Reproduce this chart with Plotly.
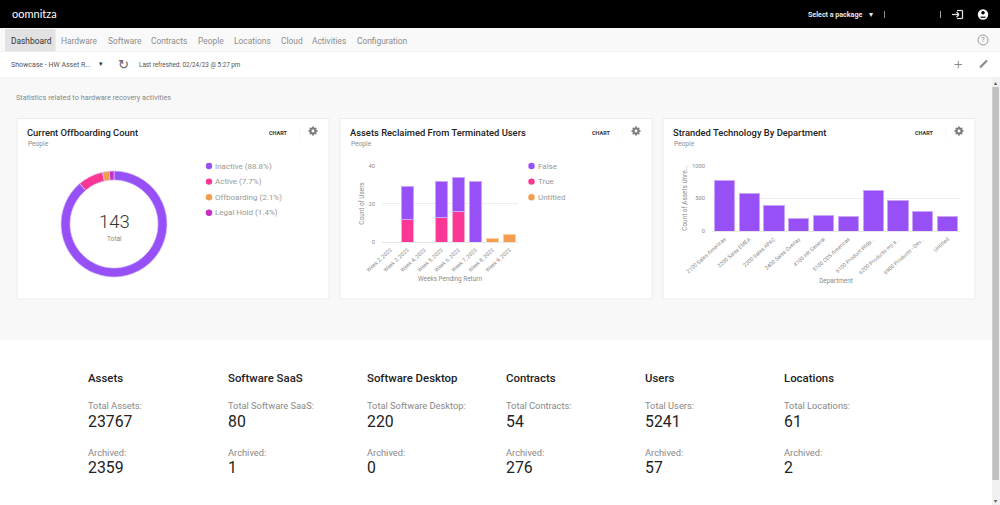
import math
import plotly.graph_objects as go

W = 1000
H = 505

PURPLE = '#9650f5'
PINK = '#fb3795'
ORANGE = '#f59d4f'
MAGENTA = '#c92cc9'

# Data
nav_items = ['Dashboard', 'Hardware', 'Software', 'Contracts', 'People', 'Locations', 'Cloud', 'Activities', 'Configuration']
nav_x = [11, 61, 107.5, 151, 198, 233.5, 280.5, 312, 357]

pie_labels = ['Inactive', 'Active', 'Offboarding', 'Legal Hold']
pie_values = [127, 11, 3, 2]
pie_legend = ['Inactive (88.8%)', 'Active (7.7%)', 'Offboarding (2.1%)', 'Legal Hold (1.4%)']

weeks = ['Week 2, 2023', 'Week 3, 2023', 'Week 4, 2023', 'Week 5, 2023', 'Week 6, 2023', 'Week 7, 2023', 'Week 8, 2023', 'Week 9, 2023']
week_true = [None, 12, None, 13, 16, None, None, None]
week_false = [None, 17, None, 19, 18, 32, None, None]
week_untitled = [None, None, None, None, None, None, 2, 4]

departments = ['2100 Sales Americas', '2200 Sales EMEA', '2300 Sales APAC', '2400 Sales Overlay', '4100 HR General',
               '5100 CDS Americas', '6100 Product Wldp...', '6200 Products my s...', '6900 Products - Dev...', 'Untitled']
dept_counts = [770, 580, 385, 190, 240, 215, 620, 465, 305, 215]

stat_names = ['Assets', 'Software SaaS', 'Software Desktop', 'Contracts', 'Users', 'Locations']
stat_totals = [23767, 80, 220, 54, 5241, 61]
stat_archived = [2359, 1, 0, 276, 57, 2]
stat_x = [88, 227.5, 366.5, 505.5, 645, 784]


def px(x):
    return x / W


def py(y):
    return 1 - y / H


shapes = []
annotations = []


def rect(x0, y0, x1, y1, color, line=None):
    shapes.append(dict(type='rect', xref='paper', yref='paper', x0=px(x0), x1=px(x1), y0=py(y0), y1=py(y1),
                       fillcolor=color, layer='below',
                       line=dict(color=line or color, width=1 if line else 0)))


def dot(x, y, r, color):
    shapes.append(dict(type='circle', xref='paper', yref='paper', x0=px(x - r), x1=px(x + r), y0=py(y + r), y1=py(y - r),
                       fillcolor=color, line=dict(width=0), layer='above'))


def stroke(x0, y0, x1, y1, color, width=1.0):
    shapes.append(dict(type='line', xref='paper', yref='paper', x0=px(x0), x1=px(x1), y0=py(y0), y1=py(y1),
                       line=dict(color=color, width=width), layer='above'))


def text(x, y, s, size=9, color='#8a8a8a', anchor='left', weight=None, family='Roboto'):
    if anchor == 'left':
        x -= 1
    annotations.append(dict(xref='paper', yref='paper', x=px(x), y=py(y), text=s, showarrow=False,
                            xanchor=anchor, yanchor='middle', borderpad=0,
                            font=dict(size=size, color=color, family=family, weight=weight)))


def gear(x, y):
    for k in range(8):
        a = k * math.pi / 4
        dot(x + 3.7 * math.cos(a), y + 3.7 * math.sin(a), 1.0, '#7d7d7d')
    dot(x, y, 3.4, '#7d7d7d')
    dot(x, y, 1.4, '#ffffff')


# Page background
rect(0, 0, W, H, '#ffffff')
rect(0, 0, W, 28, '#000000')
rect(0, 28, W, 52, '#f9f9f9')
rect(5, 29, 55.5, 51.5, '#e2e2e2')
rect(0, 77, W, 340, '#f8f8f8')
rect(0, 51.5, W, 52, '#ececec')
rect(0, 77, W, 77.6, '#ececec')
rect(992, 78, W, H, '#f1f1f1')
rect(992.3, 87, 999, 480, '#c1c1c1')
text(995.7, 82, '▴', size=6, color='#555555', anchor='center', family='DejaVu Sans')
text(995.7, 500, '▾', size=6, color='#555555', anchor='center', family='DejaVu Sans')

# Header
text(11.5, 13.5, 'oomnitza', size=11, color='#ffffff', weight=400, family='Lato')
text(807.5, 14.5, 'Select a package', size=7.1, color='#e8e8e8', weight=700)
text(871, 14.5, '▾', size=8, color='#e8e8e8', family='DejaVu Sans', anchor='center')
rect(884.3, 11, 885, 18, '#cccccc')
rect(940.2, 11, 941, 18, '#cccccc')
# logout icon
stroke(952, 14.5, 959, 14.5, '#e8e8e8', 1.2)
stroke(956.5, 12, 959, 14.5, '#e8e8e8', 1.2)
stroke(956.5, 17, 959, 14.5, '#e8e8e8', 1.2)
stroke(957, 10.5, 962.5, 10.5, '#e8e8e8', 1.2)
stroke(962.5, 10.5, 962.5, 18.5, '#e8e8e8', 1.2)
stroke(957, 18.5, 962.5, 18.5, '#e8e8e8', 1.2)
# user icon
dot(983, 14.5, 5.2, '#ffffff')
dot(983, 12.7, 1.8, '#000000')
stroke(980.5, 17.2, 985.5, 17.2, '#000000', 1.2)
for i, item in enumerate(nav_items):
    text(nav_x[i], 41, item, size=8.4, color='#333333' if i == 0 else '#8d8d8d')
text(983, 40, '?', size=8, color='#8d8d8d', anchor='center')
shapes.append(dict(type='circle', xref='paper', yref='paper', x0=px(978), x1=px(988), y0=py(45), y1=py(35),
                   line=dict(color='#9a9a9a', width=1)))

# Toolbar
text(11, 64.5, 'Showcase - HW Asset R...', size=7, color='#555555')
text(100.5, 64, '▾', size=7, color='#333333', family='DejaVu Sans', anchor='center')
text(123, 64, '↻', size=13, color='#666666', family='DejaVu Sans', anchor='center')
text(138.5, 64.5, 'Last refreshed: 02/24/23 @ 5:27 pm', size=6.3, color='#555555')
# plus and pencil icons
stroke(954.5, 64.5, 962, 64.5, '#8a8a8a', 1)
stroke(958.3, 60.8, 958.3, 68.3, '#8a8a8a', 1)
stroke(980, 67.5, 987, 60.5, '#8a8a8a', 2.2)
text(15.5, 97.5, 'Statistics related to hardware recovery activities', size=7.3, color='#888888')

# Cards
card_x = [17, 340, 663]
card_titles = ['Current Offboarding Count', 'Assets Reclaimed From Terminated Users', 'Stranded Technology By Department']
for cx, title in zip(card_x, card_titles):
    rect(cx, 118.5, cx + 312, 299, '#ffffff', line='#ececec')
    text(cx + 10, 132.5, title, size=9.4, color='#222222', weight=500)
    text(cx + 10.5, 143.5, 'People', size=6.6, color='#8d8d8d')
    text(cx + 261, 133, 'CHART', size=5.5, color='#333333', anchor='center', weight=700)
    gear(cx + 296, 131)
    rect(cx + 282, 127, cx + 282.5, 138, '#eeeeee')

# Donut legend
for i, (label, color) in enumerate(zip(pie_legend, [PURPLE, PINK, ORANGE, MAGENTA])):
    dot(209, 166 + i * 15.6, 3.2, color)
    text(214.5, 166 + i * 15.6, label, size=8, color='#999999')
text(114.5, 222, '143', size=18.5, color='#333333', anchor='center', weight=300)
text(114.5, 239, 'Total', size=6.6, color='#8a8a8a', anchor='center')

# Bar legend
for i, (label, color) in enumerate(zip(['False', 'True', 'Untitled'], [PURPLE, PINK, ORANGE])):
    dot(531.5, 166 + i * 15.6, 3.2, color)
    text(538, 166 + i * 15.6, label, size=8, color='#999999')

# Stats
for i, name in enumerate(stat_names):
    label = 'Total ' + name + ':'
    text(stat_x[i], 377.5, name, size=11.4, color='#222222', weight=500)
    text(stat_x[i], 405.5, label, size=9.3, color='#888888')
    text(stat_x[i], 421, str(stat_totals[i]), size=15.8, color='#222222')
    text(stat_x[i], 452, 'Archived:', size=9.3, color='#888888')
    text(stat_x[i], 467, str(stat_archived[i]), size=15.8, color='#222222')

fig = go.Figure()

fig.add_trace(go.Pie(labels=pie_labels, values=pie_values, hole=0.83, sort=False, direction='clockwise', rotation=0,
                     textinfo='none', showlegend=False,
                     marker=dict(colors=[PURPLE, PINK, ORANGE, MAGENTA], line=dict(color='#d9c4fb', width=0.7)),
                     domain=dict(x=[px(61), px(167)], y=[py(277), py(171)])))

for vals, color, edge, name in [(week_true, PINK, '#ffa9d2', 'True'),
                                (week_false, PURPLE, '#c9a6fa', 'False'),
                                (week_untitled, ORANGE, '#fbcfa6', 'Untitled')]:
    fig.add_trace(go.Bar(x=weeks, y=vals, name=name, width=0.75, marker=dict(color=color, line=dict(color=edge, width=1)),
                         xaxis='x', yaxis='y', showlegend=False))

fig.add_trace(go.Bar(x=departments, y=dept_counts, name='Count', showlegend=False, width=0.82,
                     marker=dict(color=PURPLE, line=dict(color='#c9a6fa', width=1)), xaxis='x2', yaxis='y2'))

tick_font = dict(size=5.8, color='#8a8a8a', family='Roboto')
cat_font = dict(size=5.4, color='#8a8a8a', family='Roboto')
title_font = dict(size=6.4, color='#8a8a8a', family='Roboto')

fig.update_layout(
    width=W, height=H, autosize=False,
    margin=dict(l=0, r=0, t=0, b=0),
    paper_bgcolor='#ffffff', plot_bgcolor='rgba(0,0,0,0)',
    barmode='stack',
    shapes=shapes, annotations=annotations,
    xaxis=dict(domain=[px(382), px(518)], anchor='y', tickangle=-42, tickfont=cat_font, showgrid=False, automargin=False,
               showline=True, linecolor='#e6e6e6', ticks='', tickmode='array', tickvals=weeks, ticktext=weeks,
               ticklabelstandoff=2,
               title=dict(text='Weeks Pending Return', font=title_font, standoff=4)),
    yaxis=dict(domain=[py(242), py(165)], anchor='x', range=[0, 40.5], tickvals=[0, 20, 40], tickfont=tick_font, automargin=False,
               gridcolor='#eeeeee', gridwidth=1.3, zeroline=False, ticks='', ticklabelstandoff=6,
               title=dict(text='Count of Users', font=title_font, standoff=3)),
    xaxis2=dict(domain=[px(712), px(960)], anchor='y2', tickangle=-42, tickfont=cat_font, showgrid=False, automargin=False,
                showline=True, linecolor='#e6e6e6', ticks='', ticklabelstandoff=2,
                title=dict(text='Department', font=title_font, standoff=4)),
    yaxis2=dict(domain=[py(231), py(165)], anchor='x2', range=[0, 1010], tickvals=[0, 500, 1000], tickfont=tick_font, automargin=False,
                gridcolor='#eeeeee', gridwidth=1.3, zeroline=False, ticks='', ticklabelstandoff=6,
                title=dict(text='Count of Assets Unre...', font=title_font, standoff=3)),
)

fig.write_html('out.html', config={'displayModeBar': False},
               post_script="document.body.style.margin='0';document.body.style.overflow='hidden';")
